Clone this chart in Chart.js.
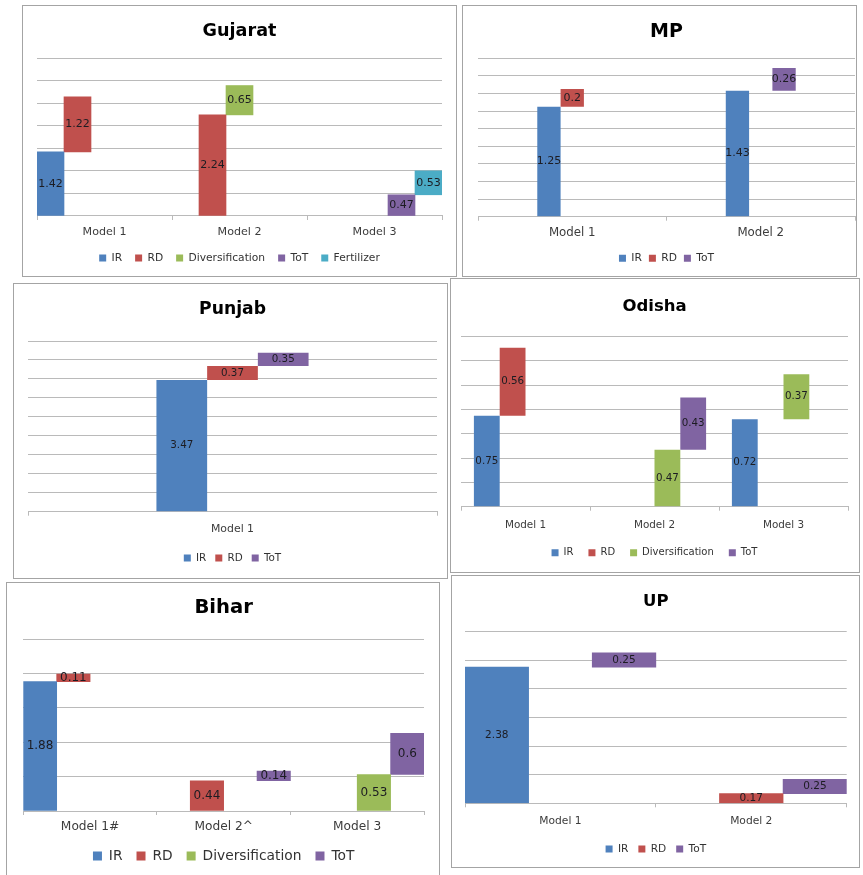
<!DOCTYPE html>
<html>
<head>
<meta charset="utf-8">
<script src="https://cdn.jsdelivr.net/npm/chart.js@4.4.1/dist/chart.umd.min.js"></script>
<style>
  html, body { margin: 0; padding: 0; background: #ffffff; }
  body { width: 863px; height: 875px; position: relative; overflow: hidden; }
  canvas { position: absolute; }
  .frame { position: absolute; box-sizing: border-box; border: 1px solid #a4a4a4; pointer-events: none; }
</style>
</head>
<body>
<script>
// ---------- data: contribution of each driver, per model ----------
const gujaratModels = ['Model 1', 'Model 2', 'Model 3'];
const gujaratIR = [1.42, null, null];
const gujaratRD = [1.22, 2.24, null];
const gujaratDiversification = [null, 0.65, null];
const gujaratToT = [null, null, 0.47];
const gujaratFertilizer = [null, null, 0.53];

const mpModels = ['Model 1', 'Model 2'];
const mpIR = [1.25, 1.43];
const mpRD = [0.2, null];
const mpToT = [null, 0.26];

const punjabModels = ['Model 1'];
const punjabIR = [3.47];
const punjabRD = [0.37];
const punjabToT = [0.35];

const odishaModels = ['Model 1', 'Model 2', 'Model 3'];
const odishaIR = [0.75, null, 0.72];
const odishaRD = [0.56, null, null];
const odishaDiversification = [null, 0.47, 0.37];
const odishaToT = [null, 0.43, null];

const biharModels = ['Model 1#', 'Model 2^', 'Model 3'];
const biharIR = [1.88, null, null];
const biharRD = [0.11, 0.44, null];
const biharDiversification = [null, null, 0.53];
const biharToT = [null, 0.14, 0.6];

const upModels = ['Model 1', 'Model 2'];
const upIR = [2.38, null];
const upRD = [null, 0.17];
const upToT = [0.25, 0.25];

// ---------- styling ----------
const FONT = '"DejaVu Sans", sans-serif';
const GRID = '#bababa';
const COLORS = {
  IR: '#4F81BD',
  RD: '#C0504D',
  Diversification: '#9BBB59',
  ToT: '#8064A2',
  Fertilizer: '#4BACC6'
};

// panel geometry is given in page pixels
const panels = [
  { title: 'Gujarat', categories: gujaratModels,
    series: [['IR', gujaratIR], ['RD', gujaratRD], ['Diversification', gujaratDiversification], ['ToT', gujaratToT], ['Fertilizer', gujaratFertilizer]],
    yMax: 3.5, yStep: 0.5, catPct: 1,
    box: [22, 5, 435, 272], plot: [37, 442, 58, 216],
    titleY: 31, labelY: 232, legendY: 258,
    titleSize: 17.6, labelSize: 11.1, legendSize: 10.7, legendGap: 13, boxSize: 7, valueSize: 11 },
  { title: 'MP', categories: mpModels,
    series: [['IR', mpIR], ['RD', mpRD], ['ToT', mpToT]],
    yMax: 1.8, yStep: 0.2, catPct: 0.371,
    box: [462, 5, 395, 272], plot: [478, 855, 58.3, 216.7],
    titleY: 32, labelY: 232.7, legendY: 258.3,
    titleSize: 19, labelSize: 11.8, legendSize: 10.7, legendGap: 7, boxSize: 7, valueSize: 11 },
  { title: 'Punjab', categories: punjabModels,
    series: [['IR', punjabIR], ['RD', punjabRD], ['ToT', punjabToT]],
    yMax: 4.5, yStep: 0.5, catPct: 0.372,
    box: [13, 283, 435, 296], plot: [28, 437, 341, 511.7],
    titleY: 310, labelY: 529, legendY: 558,
    titleSize: 17.2, labelSize: 10.9, legendSize: 10.4, legendGap: 9, boxSize: 7, valueSize: 10.3 },
  { title: 'Odisha', categories: odishaModels,
    series: [['IR', odishaIR], ['RD', odishaRD], ['Diversification', odishaDiversification], ['ToT', odishaToT]],
    yMax: 1.4, yStep: 0.2, catPct: 0.8,
    box: [450, 278, 410, 295], plot: [461, 848, 336.7, 506.7],
    titleY: 307, labelY: 525, legendY: 552.7,
    titleSize: 16.5, labelSize: 10.4, legendSize: 10, legendGap: 15, boxSize: 7, valueSize: 10.3 },
  { title: 'Bihar', categories: biharModels,
    series: [['IR', biharIR], ['RD', biharRD], ['Diversification', biharDiversification], ['ToT', biharToT]],
    yMax: 2.5, yStep: 0.5, catPct: 1,
    box: [6, 582, 434, 295], plot: [23.3, 424, 639, 811],
    titleY: 608, labelY: 827.3, legendY: 856,
    titleSize: 19.6, labelSize: 12.2, legendSize: 13.8, legendGap: 14, boxSize: 9, valueSize: 12 },
  { title: 'UP', categories: upModels,
    series: [['IR', upIR], ['RD', upRD], ['ToT', upToT]],
    yMax: 3.0, yStep: 0.5, catPct: 1,
    box: [451, 575, 409, 293], plot: [465, 846.7, 631.7, 803.3],
    titleY: 602, labelY: 821, legendY: 849,
    titleSize: 16.5, labelSize: 10.7, legendSize: 10.6, legendGap: 10, boxSize: 7, valueSize: 10.5 }
];

// writes each bar's own value in the middle of the bar
const valueLabels = {
  id: 'valueLabels',
  afterDatasetsDraw(chart, args, opts) {
    const ctx = chart.ctx;
    ctx.save();
    ctx.font = opts.size + 'px ' + FONT;
    ctx.fillStyle = opts.color;
    ctx.textAlign = 'center';
    ctx.textBaseline = 'middle';
    chart.data.datasets.forEach((ds, i) => {
      chart.getDatasetMeta(i).data.forEach((bar, j) => {
        const v = ds.values[j];
        if (v === null || v === undefined) return;
        const { x, y, base } = bar.getProps(['x', 'y', 'base'], true);
        ctx.fillText(String(v), x, (y + base) / 2);
      });
    });
    ctx.restore();
  }
};

function buildPanel(p) {
  const [bx, by, bw, bh] = p.box;
  const [pl, pr, pt, pb] = p.plot;

  const canvas = document.createElement('canvas');
  canvas.width = bw;
  canvas.height = bh;
  canvas.style.left = bx + 'px';
  canvas.style.top = by + 'px';
  document.body.appendChild(canvas);

  const frame = document.createElement('div');
  frame.className = 'frame';
  frame.style.left = bx + 'px';
  frame.style.top = by + 'px';
  frame.style.width = bw + 'px';
  frame.style.height = bh + 'px';
  document.body.appendChild(frame);

  // waterfall: each driver starts where the previous drivers of the same model end
  const running = p.categories.map(() => 0);
  const datasets = p.series.map(([name, values]) => {
    const data = values.map((v, j) => {
      if (v === null) return null;
      const start = running[j];
      running[j] = Math.round((start + v) * 1000) / 1000;
      return [start, running[j]];
    });
    return {
      label: name,
      data,
      values,
      backgroundColor: COLORS[name],
      borderWidth: 0,
      categoryPercentage: p.catPct,
      barPercentage: 1
    };
  });

  const tickLen = 4;
  const padBottom = bh - (p.legendY - by) - 10 - p.legendSize / 2;
  const legendHeight = p.legendSize + p.legendGap + 10;
  const xHeight = (bh - padBottom - legendHeight) - (pb - by);
  const tickPad = p.labelY - pb - tickLen - 0.6 * p.labelSize;
  const titleTop = p.titleY - by - 0.6 * p.titleSize;
  const titleBottom = (pt - by) - titleTop - 1.2 * p.titleSize;

  new Chart(canvas, {
    type: 'bar',
    data: { labels: p.categories, datasets },
    options: {
      responsive: false,
      animation: false,
      devicePixelRatio: 1,
      events: [],
      layout: { padding: { left: pl - bx, right: bx + bw - pr, top: 0, bottom: padBottom } },
      plugins: {
        title: {
          display: true,
          text: p.title,
          color: '#000000',
          font: { family: FONT, size: p.titleSize, weight: 'bold', lineHeight: 1.2 },
          padding: { top: titleTop, bottom: titleBottom }
        },
        legend: {
          position: 'bottom',
          labels: {
            boxWidth: p.boxSize,
            boxHeight: p.boxSize,
            padding: p.legendGap,
            color: '#333333',
            font: { family: FONT, size: p.legendSize }
          }
        },
        tooltip: { enabled: false },
        valueLabels: { size: p.valueSize, color: '#1c1c22' }
      },
      scales: {
        x: {
          grid: { display: true, drawOnChartArea: false, drawTicks: true, tickLength: tickLen, color: GRID, offset: true },
          border: { display: true, color: GRID },
          ticks: { padding: tickPad, color: '#3c3c3c', font: { family: FONT, size: p.labelSize } },
          afterFit(scale) { scale.height = xHeight; }
        },
        y: {
          min: 0,
          max: p.yMax,
          ticks: { display: false, stepSize: p.yStep },
          grid: { color: GRID, drawTicks: false },
          border: { display: false },
          afterFit(scale) { scale.width = 0; }
        }
      }
    },
    plugins: [valueLabels]
  });
}

panels.forEach(buildPanel);
</script>
</body>
</html>
